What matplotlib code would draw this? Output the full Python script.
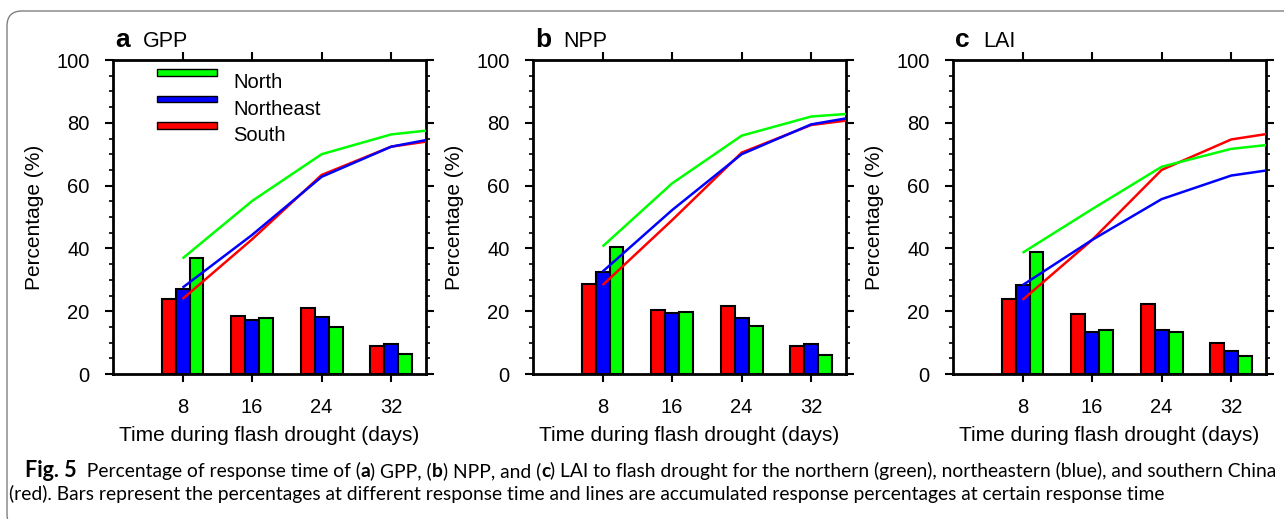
import matplotlib
matplotlib.use('Agg')
import matplotlib.pyplot as plt
from matplotlib import font_manager
from matplotlib.patches import Rectangle, FancyBboxPatch
from matplotlib.ticker import MultipleLocator
import numpy as np

plt.rcParams['font.family'] = ['Liberation Sans', 'DejaVu Sans']

W, H, DPI = 1284, 519, 100

# ---------------- data ----------------
days = [8, 16, 24, 32]
line_days = [8, 16, 24, 32, 36]
regions = ['North', 'Northeast', 'South']
region_colors = ['#00FF00', '#0000FF', '#FF0000']
panel_letters = ['a', 'b', 'c']
panel_names = ['GPP', 'NPP', 'LAI']

gpp_bar_south = [23.9, 18.5, 20.9, 8.9]
gpp_bar_northeast = [27.2, 17.2, 18.3, 9.7]
gpp_bar_north = [37.0, 17.7, 15.1, 6.5]
gpp_line_south = [23.9, 42.9, 63.4, 72.4, 74.0]
gpp_line_northeast = [27.5, 44.3, 62.8, 72.4, 74.5]
gpp_line_north = [36.8, 55.1, 70.0, 76.3, 77.5]

npp_bar_south = [28.6, 20.3, 21.7, 8.9]
npp_bar_northeast = [32.6, 19.3, 17.9, 9.4]
npp_bar_north = [40.6, 19.9, 15.4, 6.2]
npp_line_south = [28.3, 49.0, 70.5, 79.3, 80.7]
npp_line_northeast = [32.6, 52.2, 70.0, 79.5, 81.4]
npp_line_north = [40.6, 60.7, 75.9, 82.0, 82.8]

lai_bar_south = [23.8, 19.1, 22.3, 9.8]
lai_bar_northeast = [28.3, 13.5, 14.0, 7.4]
lai_bar_north = [38.7, 14.0, 13.4, 5.7]
lai_line_south = [23.6, 42.7, 65.0, 74.7, 76.4]
lai_line_northeast = [28.3, 42.7, 55.7, 63.2, 64.8]
lai_line_north = [38.6, 52.5, 66.0, 71.7, 72.9]

panels = [
    (gpp_bar_south, gpp_bar_northeast, gpp_bar_north, gpp_line_south, gpp_line_northeast, gpp_line_north),
    (npp_bar_south, npp_bar_northeast, npp_bar_north, npp_line_south, npp_line_northeast, npp_line_north),
    (lai_bar_south, lai_bar_northeast, lai_bar_north, lai_line_south, lai_line_northeast, lai_line_north),
]

RED, BLUE, GREEN = '#FF0000', '#0000FF', '#00FF00'

fig = plt.figure(figsize=(W / DPI, H / DPI), dpi=DPI)

ax_lefts = [113, 533, 953]
ax_w, ax_top, ax_bot = 313, 60, 374
bw = 1.6
x = np.array(days, dtype=float)

for i, (bs, bn, bN, ls, ln, lN) in enumerate(panels):
    L = ax_lefts[i]
    ax = fig.add_axes([L / W, (H - ax_bot) / H, ax_w / W, (ax_bot - ax_top) / H])
    ax.bar(x - bw, bs, width=bw, color=RED, edgecolor='black', linewidth=1.5, zorder=2)
    ax.bar(x, bn, width=bw, color=BLUE, edgecolor='black', linewidth=1.5, zorder=2)
    ax.bar(x + bw, bN, width=bw, color=GREEN, edgecolor='black', linewidth=1.5, zorder=2)
    ax.plot(line_days, ls, color=RED, lw=1.8, zorder=3, solid_capstyle='butt')
    ax.plot(line_days, ln, color=BLUE, lw=1.8, zorder=3, solid_capstyle='butt')
    ax.plot(line_days, lN, color=GREEN, lw=1.8, zorder=3, solid_capstyle='butt')
    ax.set_xlim(0, 36)
    ax.set_ylim(0, 100)
    ax.set_xticks(days)
    ax.set_xticklabels([str(d) for d in days])
    ax.set_yticks(range(0, 101, 20))
    ax.yaxis.set_minor_locator(MultipleLocator(5))
    ax.tick_params(axis='both', which='both', direction='out', top=True, right=True,
                   labeltop=False, labelright=False)
    ax.tick_params(which='major', length=6, width=1.5, labelsize=14.5, pad=11)
    ax.tick_params(which='minor', length=2.6, width=1.2)
    for sp in ax.spines.values():
        sp.set_linewidth(2.0)
    ax.set_xlabel('Time during flash drought (days)', fontsize=15, labelpad=7)
    ax.set_ylabel('Percentage (%)', fontsize=15, labelpad=8.5)

    # panel titles
    fig.text((L + 2) / DPI, (H - 47) / DPI, panel_letters[i], transform=fig.dpi_scale_trans,
             fontsize=19, fontweight='bold', va='baseline', ha='left')
    fig.text((L + 30) / DPI, (H - 47) / DPI, panel_names[i], transform=fig.dpi_scale_trans,
             fontsize=15.5, va='baseline', ha='left')

    if i == 0:
        ah = ax_bot - ax_top
        hx0 = (157 - L) / ax_w
        hw = 60 / ax_w
        hh = 6.7 / ah
        tx = (233 - L) / ax_w
        centers = [72.3, 99.0, 125.7]
        baselines = [88.3, 115.0, 141.0]
        for lab, col, cy, by in zip(regions, region_colors, centers, baselines):
            yc = (ax_bot - cy) / ah
            ax.add_patch(Rectangle((hx0, yc - hh / 2), hw, hh, transform=ax.transAxes,
                                   facecolor=col, edgecolor='black', linewidth=1.0,
                                   zorder=5, clip_on=False))
            ax.text(tx, (ax_bot - by) / ah, lab, transform=ax.transAxes, fontsize=14.5,
                    va='baseline', ha='left')

# ---------------- caption ----------------
avail = {f.name for f in font_manager.fontManager.ttflist}
cap_font = next((f for f in ['Lato', 'Roboto', 'Open Sans', 'Noto Sans', 'Liberation Sans'] if f in avail),
                'DejaVu Sans')
renderer = fig.canvas.get_renderer()

line1 = [("Fig. 5", 'bold', 1.12), ("  Percentage of response time of (", 'normal', 1.0), ("a", 'bold', 1.0),
         (") GPP, (", 'normal', 1.0), ("b", 'bold', 1.0), (") NPP, and (", 'normal', 1.0), ("c", 'bold', 1.0),
         (") LAI to flash drought for the northern (green), northeastern (blue), and southern China", 'normal', 1.0)]
line2 = [("(red). Bars represent the percentages at different response time and lines are "
          "accumulated response percentages at certain response time", 'normal', 1.0)]


def rich_line(x_px, y_px, segs, size):
    texts = []
    xx = x_px
    for s, wgt, scale in segs:
        t = fig.text(xx / DPI, (H - y_px) / DPI, s, transform=fig.dpi_scale_trans, fontsize=size * scale,
                     fontweight=wgt, family=[cap_font, 'DejaVu Sans'], va='baseline', ha='left')
        bb = t.get_window_extent(renderer)
        xx += bb.width
        texts.append(t)
    return texts, xx - x_px


tmp, wid = rich_line(25, 477, line1, 10)
for t in tmp:
    t.remove()
cap_size = 10 * 1253 / wid
rich_line(25, 477, line1, cap_size)
rich_line(9, 500, line2, cap_size)

# ---------------- border ----------------
box = FancyBboxPatch((7 / DPI, -10 / DPI), (W + 30) / DPI, (H - 11 + 10) / DPI,
                     boxstyle='round,pad=0,rounding_size=0.15', transform=fig.dpi_scale_trans,
                     fill=False, edgecolor='#808080', linewidth=1.0)
fig.add_artist(box)

fig.savefig('out.png', dpi=DPI)
